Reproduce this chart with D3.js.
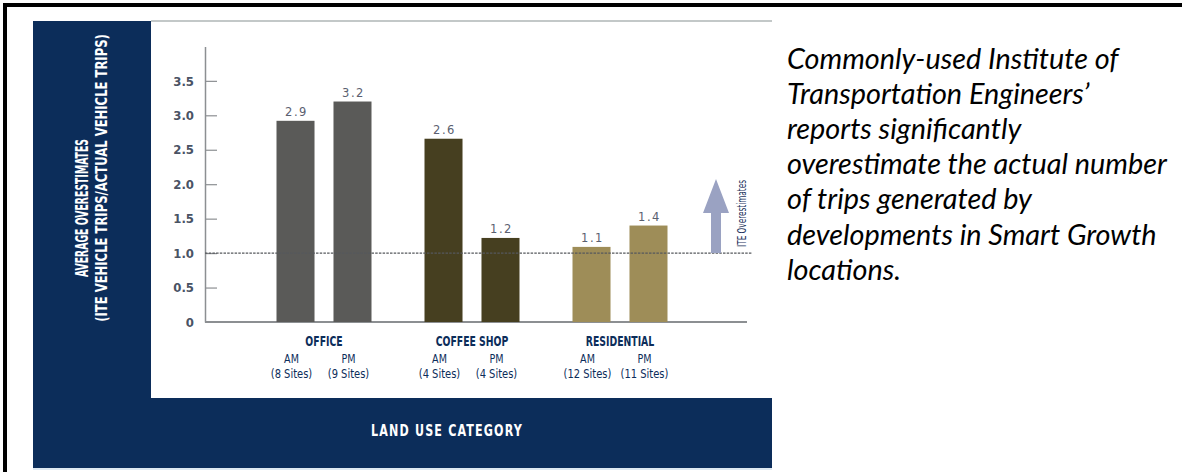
<!DOCTYPE html>
<html>
<head>
<meta charset="utf-8">
<script src="https://cdn.jsdelivr.net/npm/d3@7"></script>
<style>
  html, body { margin: 0; padding: 0; background: #ffffff; }
  svg { display: block; }
</style>
</head>
<body>
<svg id="chart" width="1182" height="472"></svg>
<script>
// ---------------- data ----------------
const categories = ["OFFICE", "COFFEE SHOP", "RESIDENTIAL"];
const periods = ["AM", "PM"];
const amValues = [2.92, 2.66, 1.09];
const pmValues = [3.2, 1.22, 1.4];
const amValueLabels = ["2.9", "2.6", "1.1"];
const pmValueLabels = ["3.2", "1.2", "1.4"];
const amSites = ["(8 Sites)", "(4 Sites)", "(12 Sites)"];
const pmSites = ["(9 Sites)", "(4 Sites)", "(11 Sites)"];
const yTicks = [0, 0.5, 1.0, 1.5, 2.0, 2.5, 3.0, 3.5];
const yTickLabels = ["0", "0.5", "1.0", "1.5", "2.0", "2.5", "3.0", "3.5"];
const referenceValue = 1.0;
const yTitleLines = ["AVERAGE OVERESTIMATES", "(ITE VEHICLE TRIPS/ACTUAL VEHICLE TRIPS)"];
const xTitle = "LAND USE CATEGORY";
const arrowLabel = "ITE Overestimates";
const noteLines = [
  "Commonly-used Institute of",
  "Transportation Engineers\u2019",
  "reports significantly",
  "overestimate the actual number",
  "of trips generated by",
  "developments in Smart Growth",
  "locations."
];

// ---------------- styles ----------------
const navy = "#0c2d5a";
const catColors = { "OFFICE": "#5a5a58", "COFFEE SHOP": "#463f20", "RESIDENTIAL": "#9e8d58" };
const narrow = "'DejaVu Sans Condensed', 'Liberation Sans Narrow', sans-serif";

const svg = d3.select("#chart");

// text squeezed horizontally (condensed look) via a transform, anchored at its middle
function squeezed(parent, x, y, txt, opts) {
  const g = parent.append("g");
  const t = g.append("text")
    .attr("text-anchor", "middle")
    .attr("font-family", opts.family || narrow)
    .attr("font-weight", opts.weight || "normal")
    .attr("font-size", opts.size)
    .attr("fill", opts.fill)
    .text(txt);
  if (opts.central) t.attr("dominant-baseline", "central");
  if (opts.spacing) t.attr("letter-spacing", opts.spacing);
  const w = t.node().getComputedTextLength();
  const f = opts.width ? opts.width / w : (opts.factor || 1);
  g.attr("transform", `translate(${x},${y}) rotate(${opts.rot || 0}) scale(${f},1)`);
  return t;
}

// rows for bars
const rows = [];
categories.forEach((c, i) => {
  rows.push({ cat: c, per: "AM", v: amValues[i], lab: amValueLabels[i], sites: amSites[i] });
  rows.push({ cat: c, per: "PM", v: pmValues[i], lab: pmValueLabels[i], sites: pmSites[i] });
});

// ---------------- frame ----------------
svg.append("rect").attr("x", 3).attr("y", 3).attr("width", 1182).attr("height", 4).attr("fill", "#000");
svg.append("rect").attr("x", 3).attr("y", 3).attr("width", 4).attr("height", 472).attr("fill", "#000");

svg.append("rect").attr("x", 33).attr("y", 21).attr("width", 118).attr("height", 447).attr("fill", navy);
svg.append("rect").attr("x", 33).attr("y", 398).attr("width", 739).attr("height", 70).attr("fill", navy);
svg.append("rect").attr("x", 33).attr("y", 468).attr("width", 739).attr("height", 2).attr("fill", "#dfe9f2");
svg.append("rect").attr("x", 151).attr("y", 20).attr("width", 621).attr("height", 2).attr("fill", "#c3c8c8");

// ---------------- scales ----------------
const x0 = d3.scaleBand().domain(categories).range([250, 694]).paddingInner(0).paddingOuter(0);
const x1 = d3.scaleBand().domain(periods).range([0, x0.bandwidth()]).paddingInner(0.333).paddingOuter(0.465);
const y = d3.scaleLinear().domain([0, 4]).range([322, 46.4]);

// ---------------- y axis ----------------
const yAxis = d3.axisLeft(y)
  .tickValues(yTicks)
  .tickFormat((d, i) => yTickLabels[i])
  .tickSizeInner(-12)
  .tickSizeOuter(0)
  .tickPadding(11);

const gy = svg.append("g").attr("transform", "translate(205,0)").call(yAxis);
gy.select(".domain").attr("stroke", "#8c8f92").attr("stroke-width", 1.5);
gy.selectAll(".tick line").attr("stroke", "#8c8f92").attr("stroke-width", 1.2);
gy.selectAll(".tick text")
  .attr("fill", "#4a5364")
  .attr("font-family", "'DejaVu Sans Condensed', 'DejaVu Sans', sans-serif")
  .attr("font-weight", "bold")
  .attr("font-size", 13);
gy.selectAll(".tick").filter(d => d === 0).select("line").remove();

// baseline
svg.append("line")
  .attr("x1", 205).attr("x2", 747)
  .attr("y1", y(0)).attr("y2", y(0))
  .attr("stroke", "#8c8f92").attr("stroke-width", 2);

// ---------------- bars ----------------
const barX = d => x0(d.cat) + x1(d.per);

svg.append("g").selectAll("rect").data(rows).join("rect")
  .attr("x", barX)
  .attr("y", d => y(d.v))
  .attr("width", x1.bandwidth())
  .attr("height", d => y(0) - y(d.v))
  .attr("fill", d => catColors[d.cat]);

// reference dashed line at 1.0
svg.append("line")
  .attr("x1", 205).attr("x2", 752)
  .attr("y1", y(referenceValue)).attr("y2", y(referenceValue))
  .attr("stroke", "#55585c").attr("stroke-width", 1.3)
  .attr("stroke-dasharray", "2.5,1.2");

// value labels
svg.append("g").selectAll("text").data(rows).join("text")
  .attr("x", d => barX(d) + x1.bandwidth() / 2 + 1)
  .attr("y", d => y(d.v) - 5)
  .attr("text-anchor", "middle")
  .attr("font-family", "'DejaVu Sans', sans-serif")
  .attr("font-size", 11.5)
  .attr("letter-spacing", 1.5)
  .attr("fill", "#5a6070")
  .text(d => d.lab);

// ---------------- x labels ----------------
const xl = svg.append("g");
categories.forEach(c => {
  squeezed(xl, x0(c) + x0.bandwidth() / 2, 346, c,
    { size: 14, weight: "bold", fill: navy, factor: 0.74 });
});
rows.forEach(d => {
  const cx = barX(d) + x1.bandwidth() / 2 - 4;
  squeezed(xl, cx, 363, d.per, { size: 12.5, fill: navy, factor: 0.85 });
  squeezed(xl, cx, 378, d.sites, { size: 13, fill: navy, factor: 0.85 });
});

// x axis title
squeezed(svg, 447, 436, xTitle,
  { size: 16, weight: "bold", fill: "#ffffff", spacing: 1.5, width: 152 });

// y axis title (rotated)
const yTitlePos = [{ x: 82, y: 208, len: 138, fs: 17 }, { x: 102, y: 178, len: 288, fs: 15 }];
yTitleLines.forEach((t, i) => {
  const p = yTitlePos[i];
  squeezed(svg, p.x, p.y, t,
    { size: p.fs, weight: "bold", fill: "#ffffff", rot: -90, central: true, width: p.len });
});

// ---------------- arrow ----------------
const arrowX = 716;
const arrowTop = 179;
const headBase = 213;
const arrowBottom = y(referenceValue);
svg.append("path")
  .attr("d", `M${arrowX - 5},${arrowBottom} L${arrowX - 5},${headBase} L${arrowX - 13},${headBase} L${arrowX},${arrowTop} L${arrowX + 13},${headBase} L${arrowX + 5},${headBase} L${arrowX + 5},${arrowBottom} Z`)
  .attr("fill", "#9aa2c2");

squeezed(svg, 742, (180 + 247) / 2, arrowLabel,
  { size: 13, fill: "#1e3560", rot: -90, central: true, width: 67 });

// ---------------- note text ----------------
const note = svg.append("g").attr("font-family", "Lato, 'Open Sans', sans-serif")
  .attr("font-style", "italic").attr("fill", "#000");
const noteTexts = note.selectAll("text").data(noteLines).join("text")
  .attr("x", 787)
  .attr("y", (d, i) => 69 + i * 35.1)
  .attr("font-size", 24)
  .text(d => d);
const widest = d3.max(noteTexts.nodes(), n => n.getComputedTextLength());
const fs = 24 * 380 / widest;
noteTexts.attr("font-size", fs);
</script>
</body>
</html>
